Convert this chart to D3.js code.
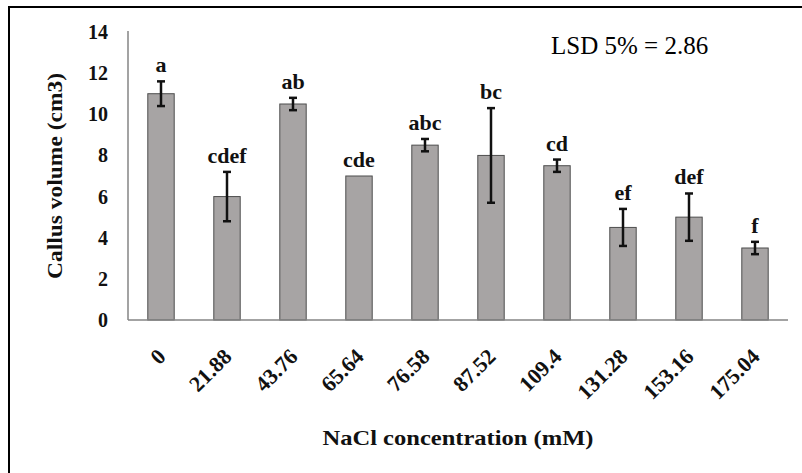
<!DOCTYPE html>
<html>
<head>
<meta charset="utf-8">
<script src="https://cdn.jsdelivr.net/npm/d3@7"></script>
<style>
  body { margin: 0; background: #fff; }
  text { font-family: "Liberation Serif", "Times New Roman", serif; }
</style>
</head>
<body>
<div id="chart"></div>
<script>
// NaCl levels (mM) and callus volume means with error bars
var concentrations = ["0", "21.88", "43.76", "65.64", "76.58", "87.52", "109.4", "131.28", "153.16", "175.04"];
var volumes = [11, 6, 10.5, 7, 8.5, 8, 7.5, 4.5, 5, 3.5];
var errors = [0.6, 1.2, 0.3, 0, 0.3, 2.3, 0.3, 0.9, 1.15, 0.3];
var letters = ["a", "cdef", "ab", "cde", "abc", "bc", "cd", "ef", "def", "f"];
var yTicks = [0, 2, 4, 6, 8, 10, 12, 14];

var W = 802, H = 473;
// plot box (note: "top" is taken by window.top, so prefix these)
var pLeft = 128, pRight = 788, pTop = 32, pBottom = 320;

var svg = d3.select("#chart").append("svg")
    .attr("width", W)
    .attr("height", H);

// outer frame (runs off the right / bottom edge like the picture)
svg.append("rect")
    .attr("x", 9).attr("y", 7)
    .attr("width", W + 20).attr("height", H + 20)
    .attr("fill", "#fff")
    .attr("stroke", "#000")
    .attr("stroke-width", 2);

var x = d3.scaleBand()
    .domain(concentrations)
    .range([pLeft, pRight])
    .paddingInner(0.6)
    .paddingOuter(0.3);

var y = d3.scaleLinear()
    .domain([0, 14])
    .range([pBottom, pTop]);

var data = concentrations.map(function(c, i) {
    return { c: c, v: volumes[i], e: errors[i], l: letters[i] };
});

// bars
svg.selectAll("rect.bar")
    .data(data)
    .enter().append("rect")
    .attr("class", "bar")
    .attr("x", function(d) { return x(d.c); })
    .attr("y", function(d) { return y(d.v); })
    .attr("width", x.bandwidth())
    .attr("height", function(d) { return y(0) - y(d.v); })
    .attr("fill", "#a7a4a4")
    .attr("stroke", "#4d4d4d")
    .attr("stroke-width", 1);

// axes lines
svg.append("line")
    .attr("x1", pLeft).attr("x2", pLeft)
    .attr("y1", y(14) - 1).attr("y2", y(0))
    .attr("stroke", "#858585").attr("stroke-width", 1.5);
svg.append("line")
    .attr("x1", pLeft).attr("x2", pRight)
    .attr("y1", y(0)).attr("y2", y(0))
    .attr("stroke", "#858585").attr("stroke-width", 1.5);

// error bars
var cap = 4;
var eb = svg.selectAll("g.err")
    .data(data.filter(function(d) { return d.e > 0; }))
    .enter().append("g")
    .attr("class", "err")
    .attr("stroke", "#111")
    .attr("stroke-width", 2.5);
eb.append("line")
    .attr("x1", function(d) { return x(d.c) + x.bandwidth() / 2; })
    .attr("x2", function(d) { return x(d.c) + x.bandwidth() / 2; })
    .attr("y1", function(d) { return y(d.v - d.e); })
    .attr("y2", function(d) { return y(d.v + d.e); });
[-1, 1].forEach(function(s) {
    eb.append("line")
        .attr("x1", function(d) { return x(d.c) + x.bandwidth() / 2 - cap; })
        .attr("x2", function(d) { return x(d.c) + x.bandwidth() / 2 + cap; })
        .attr("y1", function(d) { return y(d.v + s * d.e); })
        .attr("y2", function(d) { return y(d.v + s * d.e); });
});

// significance letters
svg.selectAll("text.letter")
    .data(data)
    .enter().append("text")
    .attr("class", "letter")
    .attr("x", function(d) { return x(d.c) + x.bandwidth() / 2; })
    .attr("y", function(d) { return y(d.v + d.e) - 9; })
    .attr("text-anchor", "middle")
    .attr("font-size", 22)
    .attr("font-weight", "bold")
    .attr("fill", "#111")
    .text(function(d) { return d.l; });

// y tick labels
svg.selectAll("text.ytick")
    .data(yTicks)
    .enter().append("text")
    .attr("class", "ytick")
    .attr("x", 108)
    .attr("y", function(d) { return y(d); })
    .attr("dy", "0.35em")
    .attr("text-anchor", "end")
    .attr("font-size", 20)
    .attr("font-weight", "bold")
    .attr("fill", "#111")
    .text(function(d) { return d; });

// x tick labels, rotated
svg.selectAll("text.xtick")
    .data(concentrations)
    .enter().append("text")
    .attr("class", "xtick")
    .attr("transform", function(d) {
        return "translate(" + (x(d) + x.bandwidth() / 2 + 6) + "," + 358 + ") rotate(-45)";
    })
    .attr("text-anchor", "end")
    .attr("font-size", 22)
    .attr("font-weight", "bold")
    .attr("fill", "#111")
    .text(function(d) { return d; });

// axis titles
svg.append("text")
    .attr("x", (pLeft + pRight) / 2)
    .attr("y", 445)
    .attr("text-anchor", "middle")
    .attr("font-size", 22)
    .attr("font-weight", "bold")
    .attr("fill", "#111")
    .attr("textLength", 271)
    .attr("lengthAdjust", "spacingAndGlyphs")
    .text("NaCl concentration (mM)");

svg.append("text")
    .attr("transform", "translate(62," + ((pTop + pBottom) / 2) + ") rotate(-90)")
    .attr("text-anchor", "middle")
    .attr("font-size", 22)
    .attr("font-weight", "bold")
    .attr("fill", "#111")
    .attr("textLength", 206)
    .attr("lengthAdjust", "spacingAndGlyphs")
    .text("Callus volume (cm3)");

// LSD note
svg.append("text")
    .attr("x", 551)
    .attr("y", 54)
    .attr("font-size", 25)
    .attr("fill", "#000")
    .text("LSD 5% = 2.86");
</script>
</body>
</html>
